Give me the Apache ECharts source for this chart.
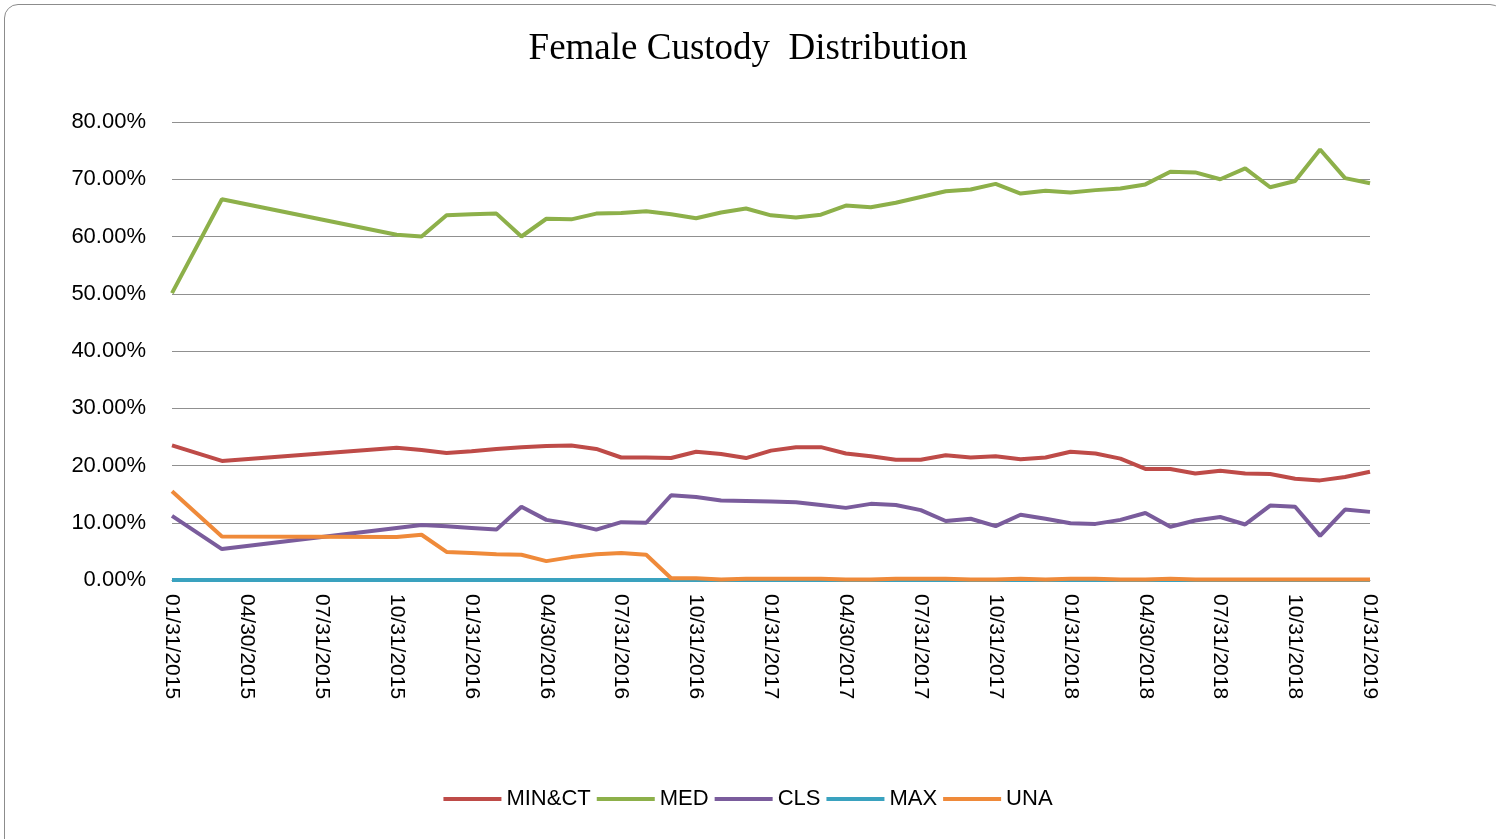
<!DOCTYPE html>
<html>
<head>
<meta charset="utf-8">
<script src="https://cdn.jsdelivr.net/npm/echarts@6/dist/echarts.min.js"></script>
<style>
html,body{margin:0;padding:0;background:#fff;}
#box{position:absolute;left:4px;top:4px;width:1500px;height:850px;border:1.5px solid #8c8c8c;border-radius:14px;box-sizing:border-box;}
#chart{position:absolute;left:0;top:0;width:1496px;height:839px;}
</style>
</head>
<body>
<div id="box"></div>
<div id="chart"></div>
<script>
var dates = [
 '01/31/2015','02/28/2015','03/31/2015','04/30/2015','05/31/2015','06/30/2015','07/31/2015','08/31/2015','09/30/2015','10/31/2015','11/30/2015','12/31/2015',
 '01/31/2016','02/29/2016','03/31/2016','04/30/2016','05/31/2016','06/30/2016','07/31/2016','08/31/2016','09/30/2016','10/31/2016','11/30/2016','12/31/2016',
 '01/31/2017','02/28/2017','03/31/2017','04/30/2017','05/31/2017','06/30/2017','07/31/2017','08/31/2017','09/30/2017','10/31/2017','11/30/2017','12/31/2017',
 '01/31/2018','02/28/2018','03/31/2018','04/30/2018','05/31/2018','06/30/2018','07/31/2018','08/31/2018','09/30/2018','10/31/2018','11/30/2018','12/31/2018',
 '01/31/2019'
];
var minct = [23.5,null,20.8,null,null,null,null,null,null,23.1,22.7,22.2,
 22.5,22.9,23.2,23.4,23.5,22.9,21.4,21.4,21.3,22.4,22.0,21.3,
 22.6,23.2,23.2,22.1,21.6,21.0,21.0,21.8,21.4,21.6,21.1,21.4,
 22.4,22.1,21.2,19.4,19.4,18.6,19.1,18.6,18.5,17.7,17.4,18.0,18.9];
var med = [50.1,null,66.5,null,null,null,null,null,null,60.3,60.0,63.7,
 63.9,64.0,60.0,63.1,63.0,64.0,64.1,64.4,63.9,63.2,64.2,64.9,
 63.7,63.3,63.8,65.4,65.1,65.9,66.9,67.9,68.2,69.2,67.5,68.0,
 67.7,68.1,68.4,69.1,71.3,71.2,70.0,71.9,68.6,69.7,75.2,70.2,69.3];
var cls = [11.2,null,5.4,null,null,null,null,null,null,9.1,9.6,9.4,
 9.1,8.8,12.8,10.5,9.8,8.8,10.1,10.0,14.8,14.5,13.9,13.8,
 13.7,13.6,13.1,12.6,13.3,13.1,12.2,10.3,10.7,9.4,11.4,10.7,
 9.9,9.8,10.5,11.7,9.3,10.4,11.0,9.7,13.0,12.8,7.7,12.3,11.9];
var maxs = [0,null,0,null,null,null,null,null,null,0,0,0,
 0,0,0,0,0,0,0,0,0,0,0,0,
 0,0,0,0,0,0,0,0,0,0,0,0,
 0,0,0,0,0,0,0,0,0,0,0,0,0];
var una = [15.5,null,7.6,null,null,null,null,null,null,7.5,7.9,4.9,
 4.7,4.5,4.4,3.3,4.0,4.5,4.7,4.4,0.3,0.3,0.1,0.2,
 0.2,0.2,0.2,0.1,0.1,0.2,0.2,0.2,0.1,0.1,0.2,0.1,
 0.2,0.2,0.1,0.1,0.2,0.1,0.1,0.1,0.1,0.1,0.1,0.1,0.1];

var chart = echarts.init(document.getElementById('chart'));
function line(name, data, color) {
  return {name: name, type: 'line', data: data, connectNulls: true, showSymbol: false,
    lineStyle: {color: color, width: 4}, itemStyle: {color: color}};
}
chart.setOption({
  animation: false,
  title: {text: 'Female Custody  Distribution', left: 'center', top: 26,
    textStyle: {fontFamily: 'Liberation Serif', fontWeight: 'normal', fontSize: 37, color: '#000'}},
  legend: {bottom: 24, itemWidth: 58, itemHeight: 4, itemGap: 6, icon: 'rect',
    textStyle: {fontFamily: 'Liberation Sans', fontSize: 22, color: '#000'}},
  grid: {left: 172, right: 126, top: 122, bottom: 259},
  xAxis: {type: 'category', data: dates, boundaryGap: false,
    axisLine: {lineStyle: {color: '#888'}}, axisTick: {show: false},
    axisLabel: {interval: 2, rotate: -90, fontFamily: 'Liberation Sans', fontSize: 21, color: '#000', margin: 14}},
  yAxis: {type: 'value', min: 0, max: 80, interval: 10,
    axisLine: {show: false}, axisTick: {show: false},
    splitLine: {lineStyle: {color: '#909090', width: 1.2}},
    axisLabel: {formatter: function (v) { return v.toFixed(2) + '%'; }, fontFamily: 'Liberation Sans', fontSize: 22, color: '#000', margin: 26}},
  series: [
    line('MIN&CT', minct, '#be4b48'),
    line('MED', med, '#8db04a'),
    line('CLS', cls, '#7a5c9c'),
    line('MAX', maxs, '#3aa2bf'),
    line('UNA', una, '#ef8a3a')
  ]
});
</script>
</body>
</html>
